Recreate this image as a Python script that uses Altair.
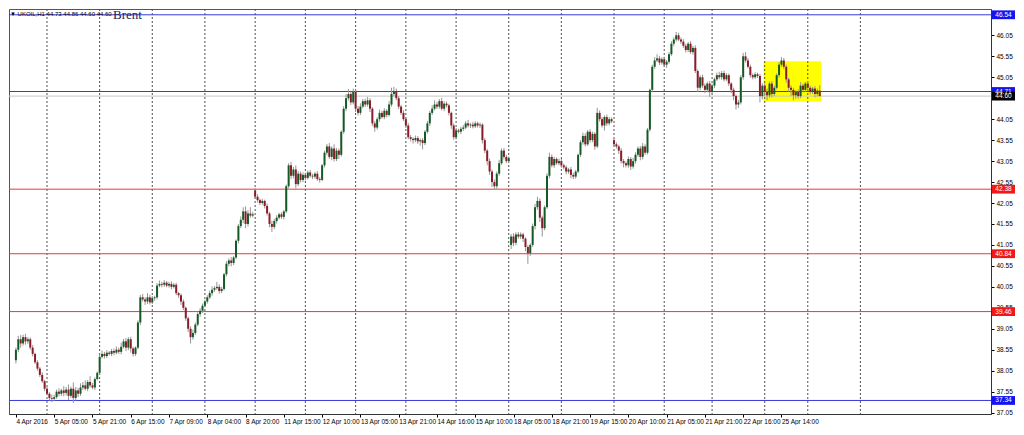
import altair as alt
import pandas as pd

# ---------------- data (UKOIL, H1) ----------------
closes = [
    38.55, 38.80, 38.70, 38.85, 38.75, 38.80, 38.60, 38.45, 38.25, 38.10,
    37.95, 37.80, 37.62, 37.50, 37.40, 37.38, 37.42, 37.55, 37.50, 37.58,
    37.52, 37.60, 37.45, 37.62, 37.40, 37.58, 37.50, 37.65, 37.70, 37.62,
    37.78, 37.70, 37.65, 37.85, 38.00, 38.38, 38.45, 38.40, 38.48, 38.45,
    38.52, 38.48, 38.55, 38.50, 38.62, 38.75, 38.60, 38.80, 38.58, 38.45,
    38.60, 39.20, 39.80, 39.75, 39.70, 39.80, 39.68, 39.78, 39.80, 40.08,
    40.12, 40.10, 40.15, 40.08, 40.12, 40.05, 40.10, 39.90, 39.85, 39.70,
    39.55, 39.30, 39.05, 38.85, 38.95, 39.15, 39.40, 39.48, 39.60, 39.70,
    39.80, 39.90, 39.98, 40.02, 40.05, 39.95, 40.00, 40.35, 40.60, 40.68,
    40.62, 40.75, 41.15, 41.50, 41.65, 41.85, 41.55, 41.80, 41.75, 41.78,
    42.20, 42.12, 42.05, 42.10, 41.98, 41.80, 41.55, 41.48, 41.62, 41.70,
    41.78, 41.72, 41.85, 42.45, 42.95, 42.70, 42.85, 42.50, 42.75, 42.60,
    42.72, 42.65, 42.78, 42.70, 42.68, 42.75, 42.62, 42.60, 42.95, 43.25,
    43.40, 43.15, 43.35, 43.10, 43.30, 43.20, 43.75, 44.30, 44.55, 44.65,
    44.45, 44.70, 44.30, 44.20, 44.35, 44.48, 44.40, 44.50, 44.30, 43.95,
    43.85, 44.05, 44.20, 44.10, 44.25, 44.15, 44.40, 44.65, 44.72, 44.55,
    44.35, 44.20, 44.05, 43.90, 43.62, 43.58, 43.55, 43.60, 43.52, 43.55,
    43.48, 43.75, 43.95, 44.20, 44.30, 44.40, 44.35, 44.48, 44.30, 44.42,
    44.38, 44.20, 43.90, 43.62, 43.78, 43.75, 43.82, 43.85, 43.95, 43.90,
    43.92, 43.88, 43.95, 43.90, 43.92, 43.55, 43.30, 43.05, 42.80, 42.55,
    42.45, 42.75, 43.00, 43.30, 43.15, 43.05, 43.12, 41.25, 41.10, 41.30,
    41.25, 41.30, 41.20, 41.00, 40.85, 41.05, 41.50, 41.95, 42.10, 41.70,
    41.45, 41.95, 42.70, 43.15, 42.95, 43.10, 43.00, 43.05, 42.95, 42.90,
    42.80, 42.85, 42.72, 42.68, 42.80, 43.20, 43.50, 43.65, 43.45, 43.75,
    43.55, 43.70, 43.40, 44.20, 44.05, 43.90, 44.10, 43.95, 44.05, 44.00,
    43.45, 43.40, 43.30, 43.05, 43.00, 42.95, 43.10, 42.92, 43.05, 43.20,
    43.35, 43.15, 43.40, 43.25, 43.80, 44.75, 45.30, 45.45, 45.50, 45.40,
    45.48, 45.35, 45.42, 45.60, 45.85, 45.95, 46.05, 45.95, 45.90, 45.80,
    45.70, 45.85, 45.65, 45.75, 45.20, 44.80, 45.05, 44.85, 44.75, 44.90,
    44.70, 44.85, 45.00, 45.10, 45.05, 45.15, 45.00, 45.10, 44.90, 44.75,
    44.60, 44.40, 44.45, 45.05, 45.55, 45.45, 45.30, 45.10, 45.05, 45.12,
    45.08, 44.60, 44.85, 44.70, 44.62, 44.90, 44.65, 44.80, 45.10, 45.35,
    45.45, 45.30, 45.00, 44.80, 44.75, 44.62, 44.70, 44.60, 44.85, 44.75,
    44.90, 44.80, 44.70, 44.78, 44.65, 44.73, 44.60,
]
# wick lengths above / below the body, in cents
upper_wick = [
    5, 8, 10, 6, 8, 5, 4, 6, 3, 5,
    4, 6, 3, 5, 4, 8, 6, 5, 8, 4,
    10, 6, 12, 5, 15, 8, 6, 10, 8, 12,
    5, 14, 6, 4, 3, 6, 8, 5, 6, 4,
    5, 6, 8, 5, 10, 6, 8, 5, 6, 4,
    3, 5, 6, 8, 5, 10, 6, 5, 4, 6,
    8, 5, 6, 4, 5, 6, 4, 5, 3, 4,
    5, 3, 4, 6, 8, 5, 4, 6, 5, 4,
    5, 6, 8, 5, 12, 6, 5, 3, 6, 5,
    8, 4, 3, 5, 8, 10, 12, 8, 15, 6,
    5, 6, 4, 5, 3, 6, 4, 8, 5, 6,
    4, 5, 3, 4, 5, 8, 6, 10, 6, 5,
    6, 5, 4, 6, 5, 4, 6, 5, 3, 5,
    6, 8, 5, 10, 6, 5, 3, 6, 10, 12,
    6, 8, 5, 6, 8, 5, 6, 8, 5, 4,
    6, 5, 8, 5, 6, 4, 8, 15, 10, 6,
    5, 4, 6, 5, 6, 5, 4, 6, 5, 4,
    5, 4, 6, 5, 8, 10, 6, 5, 8, 6,
    5, 4, 3, 5, 6, 4, 5, 6, 5, 8,
    4, 6, 5, 4, 5, 3, 5, 4, 6, 5,
    6, 5, 8, 5, 6, 5, 4, 6, 8, 5,
    6, 5, 4, 3, 5, 4, 6, 8, 10, 6,
    5, 4, 6, 10, 6, 5, 4, 6, 5, 4,
    5, 4, 6, 5, 4, 3, 5, 8, 6, 4,
    6, 5, 4, 12, 6, 5, 4, 6, 5, 4,
    3, 5, 4, 6, 5, 4, 6, 5, 8, 6,
    5, 6, 8, 5, 4, 3, 5, 8, 10, 6,
    5, 6, 4, 5, 6, 5, 8, 6, 5, 6,
    5, 4, 6, 5, 6, 4, 5, 6, 5, 4,
    6, 5, 4, 6, 8, 5, 6, 5, 4, 3,
    5, 4, 6, 5, 8, 10, 6, 5, 4, 5,
    4, 5, 6, 5, 8, 5, 6, 5, 4, 6,
    8, 6, 5, 4, 6, 5, 4, 6, 8, 5,
    4, 6, 5, 4, 6, 5, 13,
]
lower_wick = [
    8, 6, 10, 5, 8, 6, 5, 6, 4, 5,
    5, 4, 6, 4, 6, 8, 5, 4, 6, 5,
    8, 6, 10, 5, 12, 6, 8, 5, 6, 4,
    6, 5, 4, 6, 3, 5, 4, 6, 5, 4,
    5, 6, 4, 5, 6, 4, 8, 6, 10, 6,
    5, 4, 6, 5, 8, 6, 5, 4, 6, 5,
    4, 6, 5, 4, 5, 6, 4, 5, 6, 8,
    5, 6, 8, 15, 6, 5, 4, 6, 5, 4,
    5, 4, 6, 5, 4, 6, 5, 4, 5, 6,
    8, 5, 4, 6, 5, 8, 10, 6, 5, 4,
    5, 6, 5, 4, 6, 5, 8, 12, 5, 6,
    4, 5, 6, 4, 5, 8, 6, 10, 5, 6,
    5, 6, 4, 5, 6, 5, 4, 6, 3, 5,
    6, 5, 8, 6, 5, 10, 4, 5, 6, 5,
    6, 5, 8, 6, 5, 4, 6, 5, 8, 6,
    10, 5, 6, 4, 5, 6, 4, 5, 6, 5,
    6, 5, 4, 6, 5, 6, 8, 5, 6, 10,
    15, 5, 4, 6, 5, 4, 6, 5, 4, 6,
    5, 6, 8, 6, 5, 4, 6, 5, 4, 5,
    6, 5, 4, 5, 6, 8, 6, 10, 8, 12,
    8, 6, 5, 4, 6, 5, 4, 10, 8, 6,
    5, 6, 8, 10, 25, 6, 5, 8, 6, 10,
    20, 5, 4, 6, 5, 6, 4, 5, 6, 5,
    6, 5, 8, 6, 5, 4, 5, 6, 5, 4,
    6, 5, 8, 4, 6, 5, 12, 6, 5, 4,
    6, 5, 8, 6, 10, 5, 6, 8, 5, 6,
    5, 8, 6, 5, 4, 5, 6, 5, 4, 6,
    5, 6, 8, 5, 4, 6, 5, 4, 6, 5,
    6, 5, 4, 6, 5, 10, 6, 5, 8, 6,
    12, 5, 6, 4, 5, 6, 5, 4, 6, 8,
    10, 12, 8, 5, 6, 5, 4, 6, 5, 4,
    5, 15, 8, 10, 12, 6, 8, 5, 4, 6,
    5, 6, 8, 10, 15, 12, 8, 6, 5, 6,
    5, 8, 6, 5, 8, 6, 0,
]
# bars whose open differs from the previous close (session gaps)
gap_bars = [0, 100, 207, 250]
gap_opens = [38.30, 42.35, 41.05, 43.55]

tick_bars = [0, 16, 32, 48, 64, 80, 96, 112, 128, 144, 160,
             176, 192, 208, 224, 240, 256, 272, 288, 304, 320]
tick_labels = ["4 Apr 2016", "5 Apr 05:00", "5 Apr 21:00", "6 Apr 15:00",
               "7 Apr 09:00", "8 Apr 04:00", "8 Apr 20:00", "11 Apr 15:00",
               "12 Apr 10:00", "13 Apr 05:00", "13 Apr 21:00", "14 Apr 16:00",
               "15 Apr 10:00", "18 Apr 05:00", "18 Apr 21:00", "19 Apr 15:00",
               "20 Apr 10:00", "21 Apr 05:00", "21 Apr 21:00", "22 Apr 16:00",
               "25 Apr 14:00"]
day_sep_bars = [13, 35, 57, 79, 100, 121, 142, 163, 184, 206, 228, 250,
                271, 291, 313, 331, 353]

level_prices = [46.54, 44.71, 42.38, 40.84, 39.46, 37.34]
level_kinds = ["blue", "blue", "red", "red", "red", "blue"]
bid_price = 44.60
price_ticks = [37.05, 37.55, 38.05, 38.55, 39.05, 39.55, 40.05, 40.55, 41.05,
               41.55, 42.05, 42.55, 43.05, 43.55, 44.05, 44.55, 45.05, 45.55, 46.05]
hidden_tick = 44.55   # covered by the current-price box
zone_bars = [312.5, 336.6]
zone_prices = [44.47, 45.43]
header = "\u25bc UKOIL,H1  44.73 44.86 44.60 44.60"
note = "Brent"

# ---------------- build tables ----------------
n = len(closes)
assert len(upper_wick) == n and len(lower_wick) == n, (n, len(upper_wick), len(lower_wick))
opens = [closes[i - 1] if i > 0 else closes[0] for i in range(n)]
for b, o in zip(gap_bars, gap_opens):
    opens[b] = o
rows = []
for i in range(n):
    o, c = opens[i], closes[i]
    rows.append({
        "bar": i, "open": o, "close": c,
        "high": round(max(o, c) + upper_wick[i] / 100, 2),
        "low": round(min(o, c) - lower_wick[i] / 100, 2),
        "dir": "up" if c >= o else "down",
    })
candles = pd.DataFrame(rows)

levels = pd.DataFrame({"price": level_prices, "kind": level_kinds})
boxes = pd.DataFrame({"price": level_prices + [bid_price],
                      "kind": level_kinds + ["bid"]})
boxes["label"] = boxes["price"].map(lambda v: f"{v:.2f}")
zone = pd.DataFrame({"x0": [zone_bars[0]], "x1": [zone_bars[1]],
                     "p0": [zone_prices[0]], "p1": [zone_prices[1]]})
seps = pd.DataFrame({"bar": day_sep_bars})

W, H = 982, 405
FONT = "Liberation Sans"

xscale = alt.Scale(domain=[-0.8, 405.5], nice=False, zero=False)
yscale = alt.Scale(domain=[37.017, 46.678], nice=False, zero=False)
label_expr = "[" + ",".join(f"'{t}'" for t in tick_labels) + "][round(datum.value/16)]"
xaxis = alt.Axis(values=tick_bars, labelExpr=label_expr, labelAlign="left",
                 labelFontSize=6.5, labelFont=FONT, labelColor="#000000",
                 tickSize=3, tickColor="#000000", domainColor="#333333",
                 labelPadding=1, labelOverlap=False, labelFlush=False,
                 grid=False, title=None)
yaxis = alt.Axis(orient="right", values=price_ticks,
                 labelExpr=f"abs(datum.value - {hidden_tick}) < 0.001 ? '' : format(datum.value, '.2f')",
                 labelFontSize=6.5, labelFont=FONT, labelColor="#000000",
                 tickSize=3, tickColor="#000000", domainColor="#333333",
                 labelPadding=2, labelOverlap=False, labelFlush=False,
                 grid=False, title=None)

X = alt.X("bar:Q", scale=xscale, axis=xaxis)

zone_layer = alt.Chart(zone).mark_rect(color="#ffff00").encode(
    x=alt.X("x0:Q", scale=xscale, axis=xaxis), x2="x1:Q",
    y=alt.Y("p0:Q", scale=yscale, axis=yaxis), y2="p1:Q")

sep_layer = alt.Chart(seps).mark_rule(color="#505050", strokeDash=[2, 2],
                                      strokeWidth=1).encode(x=X)

line_colors = alt.Scale(domain=["blue", "red"], range=["#3a3ad8", "#e23b3b"])
level_layer = alt.Chart(levels).mark_rule(strokeWidth=1).encode(
    y=alt.Y("price:Q", scale=yscale, axis=yaxis),
    color=alt.Color("kind:N", scale=line_colors, legend=None))

bid_layer = alt.Chart(pd.DataFrame({"price": [bid_price]})).mark_rule(
    color="#c8c8c8", strokeWidth=1).encode(
    y=alt.Y("price:Q", scale=yscale, axis=yaxis))

wick_layer = alt.Chart(candles).mark_rule(color="#959595", strokeWidth=1).encode(
    x=X, y=alt.Y("low:Q", scale=yscale, axis=yaxis), y2="high:Q")

body_colors = alt.Scale(domain=["up", "down"], range=["#145a24", "#8a1c2a"])
body_layer = alt.Chart(candles).mark_bar(size=2).encode(
    x=X, y=alt.Y("open:Q", scale=yscale, axis=yaxis), y2="close:Q",
    color=alt.Color("dir:N", scale=body_colors, legend=None))

box_colors = alt.Scale(domain=["blue", "red", "bid"],
                       range=["#1414f0", "#f01818", "#000000"])
box_layer = alt.Chart(boxes).transform_calculate(
    top="datum.price + 0.105", bot="datum.price - 0.105"
).mark_rect().encode(
    x=alt.value(W + 1), x2=alt.value(W + 24),
    y=alt.Y("top:Q", scale=yscale, axis=yaxis), y2="bot:Q",
    color=alt.Color("kind:N", scale=box_colors, legend=None))
box_text = alt.Chart(boxes).mark_text(
    color="#ffffff", fontSize=6.5, font=FONT, align="center", baseline="middle"
).encode(x=alt.value(W + 12.5),
         y=alt.Y("price:Q", scale=yscale, axis=yaxis), text="label:N")

header_layer = alt.Chart(pd.DataFrame({"t": [header]})).mark_text(
    fontSize=6, font=FONT, color="#000000", align="left", baseline="middle"
).encode(x=alt.value(1), y=alt.value(5), text="t:N")
note_layer = alt.Chart(pd.DataFrame({"t": [note]})).mark_text(
    fontSize=13, font="Liberation Serif", color="#1c1c55", align="left",
    baseline="top").encode(x=alt.value(104), y=alt.value(0), text="t:N")

chart = alt.layer(
    zone_layer, sep_layer, level_layer, bid_layer, wick_layer, body_layer,
    box_layer, box_text, header_layer, note_layer
).resolve_scale(color="independent").properties(
    width=W, height=H, padding=0, background="#ffffff"
).configure_view(stroke="#555555", strokeWidth=1)

chart.save("out.html", embed_options={"renderer": "svg", "actions": False})
